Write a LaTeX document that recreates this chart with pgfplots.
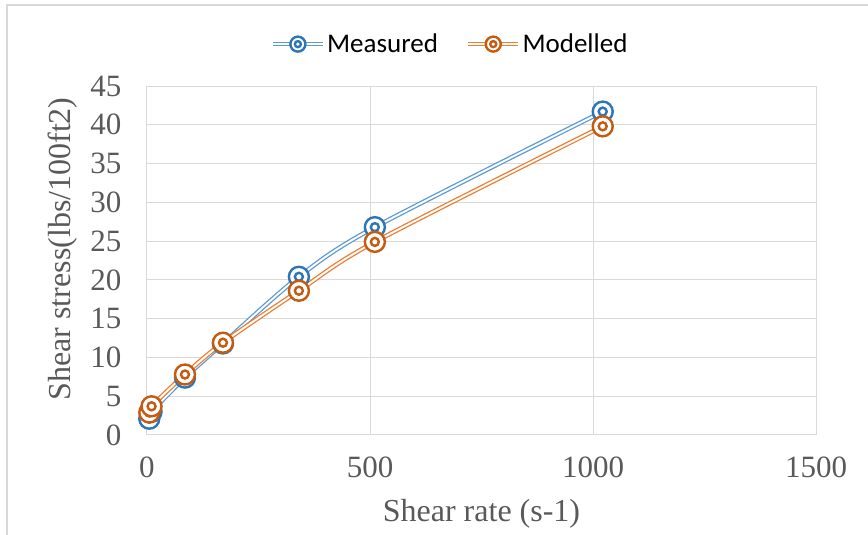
\documentclass[border=0pt]{standalone}
\usepackage{pgfplots}
\pgfplotsset{compat=1.18}
\usepackage{fontspec}
\setmainfont{Liberation Serif}
\newfontfamily\calfont{Carlito}
\definecolor{mblue}{HTML}{5B9BD5}
\definecolor{mbluedk}{HTML}{2E75B6}
\definecolor{morange}{HTML}{ED7D31}
\definecolor{morangedk}{HTML}{C55A11}
\definecolor{gridc}{HTML}{D9D9D9}
\definecolor{txtc}{HTML}{595959}
\pgfdeclareplotmark{dring}{%
  \pgfpathcircle{\pgfpointorigin}{\pgfplotmarksize}\pgfusepathqfillstroke
  \pgfpathcircle{\pgfpointorigin}{0.4\pgfplotmarksize}\pgfusepathqstroke}
\begin{document}
\begin{tikzpicture}
\useasboundingbox (-147pt,-100pt) rectangle (721pt,435pt);
\draw[color=gridc, line width=1.2pt] (-140pt,-200pt) rectangle (900pt,430pt);
\begin{axis}[
  scale only axis,
  width=669pt, height=349pt,
  xmin=0, xmax=1500, ymin=0, ymax=45,
  xtick={0,500,1000,1500},
  ytick={0,5,...,45},
  grid=major,
  grid style={gridc, line width=1pt},
  axis line style={gridc, line width=1pt},
  major tick length=0pt,
  /pgf/number format/assume math mode=true,
  /pgf/number format/1000 sep={},
  tick label style={font=\fontsize{31}{36}\selectfont, text=txtc},
  xticklabel style={yshift=-18pt},
  yticklabel style={xshift=-22pt},
  xlabel={Shear rate (s-1)},
  ylabel={Shear stress(lbs/100ft2)},
  label style={font=\fontsize{32}{38}\selectfont, text=txtc},
  x label style={at={(axis description cs:0.5,0)}, yshift=-79pt, anchor=center},
  y label style={at={(axis description cs:-0.126,0.533)}, anchor=center},
  legend style={draw=none, fill=none, at={(axis description cs:0.453,1.12)}, anchor=center,
    font=\calfont\fontsize{27}{30}\selectfont, legend columns=2,
    /tikz/every even column/.append style={column sep=26pt}},
  legend image code/.code={\draw[mark repeat=2,mark phase=2, mark size=7.5pt] plot coordinates {(0pt,0pt) (25pt,0pt) (50pt,0pt)};},
]
\addplot[smooth, color=mblue, line width=1.3pt, double=white, double distance=1.9pt,
  mark=dring, mark size=10pt, mark options={solid, draw=mbluedk, fill=white, line width=2.4pt}]
  coordinates {(5.11,2.1) (10.22,3.0) (85.15,7.4) (170.3,11.8) (340.6,20.4) (510.9,26.8) (1021.8,41.7)};
\addlegendentry{Measured}
\addplot[smooth, color=morange, line width=1.3pt, double=white, double distance=1.9pt,
  mark=dring, mark size=10pt, mark options={solid, draw=morangedk, fill=white, line width=2.4pt}]
  coordinates {(5.11,2.9) (10.22,3.7) (85.15,7.8) (170.3,11.9) (340.6,18.6) (510.9,24.9) (1021.8,39.8)};
\addlegendentry{Modelled}
\end{axis}
\end{tikzpicture}
\end{document}
